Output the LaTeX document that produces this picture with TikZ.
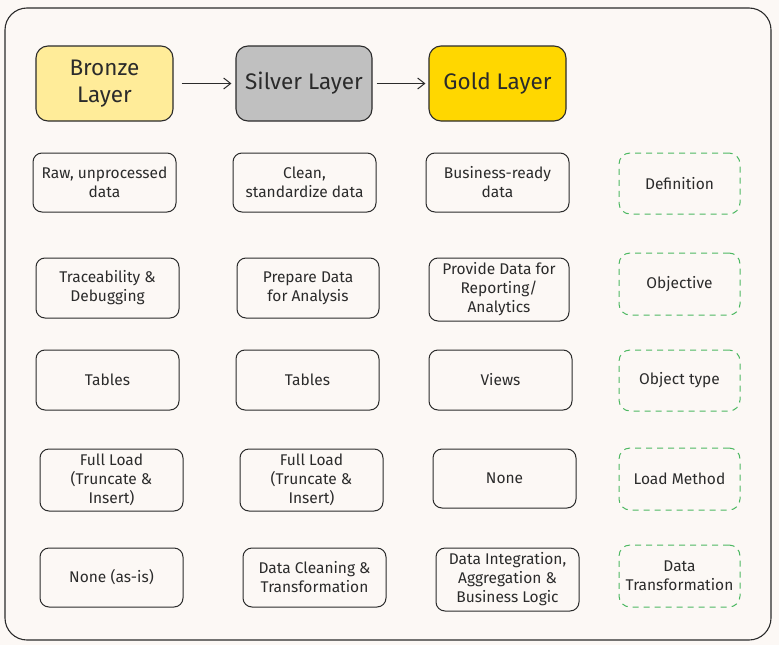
\documentclass[tikz,border=0pt]{standalone}
\usepackage{fontspec}
\setmainfont{Fira Sans}
\usetikzlibrary{arrows.meta}
\definecolor{bgc}{HTML}{FCF8F5}
\definecolor{inkc}{HTML}{2B2B2B}
\definecolor{bronzec}{HTML}{FFEC99}
\definecolor{silverc}{HTML}{C0C0C0}
\definecolor{goldc}{HTML}{FFD700}
\definecolor{greenc}{HTML}{4DB862}
\tikzset{
  cell/.style={draw=inkc, line width=1pt, rounded corners=9pt, fill=bgc,
    align=center, inner sep=1pt, font=\fontsize{15.5}{19}\selectfont, text=inkc},
  lbl/.style={draw=greenc, line width=1pt, dash pattern=on 6pt off 5pt, rounded corners=11pt,
    align=center, inner sep=1pt, font=\fontsize{15.5}{19}\selectfont, text=inkc,
    minimum width=121pt, minimum height=61pt},
  layer/.style={draw=inkc, line width=1.1pt, rounded corners=12pt, align=center,
    font=\fontsize{22.5}{27}\selectfont, text=inkc, minimum width=137pt, minimum height=75pt},
  flow/.style={draw=inkc, line width=1pt, -{Straight Barb[length=7pt,width=11pt]}},
}
\begin{document}
\begin{tikzpicture}[x=1pt,y=-1pt]
\fill[bgc] (0,0) rectangle (779,645);
\useasboundingbox (0,0) rectangle (779,645);
\draw[inkc, line width=1.1pt, rounded corners=22pt] (5,8) rectangle (771,640);

% header layers
\node[layer, fill=bronzec] (bronze) at (104.5,83.5) {Bronze\\Layer};
\node[layer, fill=silverc, minimum width=136pt] (silver) at (304,83.5) {Silver Layer};
\node[layer, fill=goldc] (gold) at (497.5,83.5) {Gold Layer};
\draw[flow] ([xshift=8pt]bronze.east) -- ([xshift=-4pt]silver.west);
\draw[flow] ([xshift=4pt]silver.east) -- ([xshift=-3pt]gold.west);

% row 1: definition
\node[cell, minimum width=143pt, minimum height=59pt] (b1) at (104.5,182.5) {Raw, unprocessed\\data};
\node[cell, minimum width=143pt, minimum height=59pt] (s1) at (304.5,182.5) {Clean,\\standardize data};
\node[cell, minimum width=143pt, minimum height=59pt] (g1) at (497.5,182.5) {Business-ready\\data};
\node[lbl] (l1) at (679.5,183.5) {Definition};

% row 2: objective
\node[cell, minimum width=143pt, minimum height=60pt] (b2) at (107.5,288) {Traceability \&\\Debugging};
\node[cell, minimum width=142pt, minimum height=60pt] (s2) at (308,288) {Prepare Data\\for Analysis};
\node[cell, minimum width=140pt, minimum height=63pt] (g2) at (499,289.5) {Provide Data for\\Reporting/\\Analytics};
\node[lbl, minimum height=62pt] (l2) at (679.5,284) {Objective};

% row 3: object type
\node[cell, minimum width=143pt, minimum height=60pt] (b3) at (107.5,380) {Tables};
\node[cell, minimum width=143pt, minimum height=60pt] (s3) at (307.5,380) {Tables};
\node[cell, minimum width=143pt, minimum height=60pt] (g3) at (500.5,380) {Views};
\node[lbl] (l3) at (679.5,380.5) {Object type};

% row 4: load method
\node[cell, minimum width=143pt, minimum height=62pt] (b4) at (111.5,480) {Full Load\\(Truncate \&\\Insert)};
\node[cell, minimum width=143pt, minimum height=62pt] (s4) at (311.5,480) {Full Load\\(Truncate \&\\Insert)};
\node[cell, minimum width=143pt, minimum height=59pt] (g4) at (504.5,478.5) {None};
\node[lbl, minimum height=62pt] (l4) at (679.5,479) {Load Method};

% row 5: data transformation
\node[cell, minimum width=143pt, minimum height=59pt] (b5) at (111.5,577.5) {None (as-is)};
\node[cell, minimum width=143pt, minimum height=59pt] (s5) at (314.5,577.5) {Data Cleaning \&\\Transformation};
\node[cell, minimum width=143pt, minimum height=63pt] (g5) at (507.5,579.5) {Data Integration,\\Aggregation \&\\Business Logic};
\node[lbl, minimum height=62pt] (l5) at (679.5,576) {Data\\Transformation};
\end{tikzpicture}
\end{document}
